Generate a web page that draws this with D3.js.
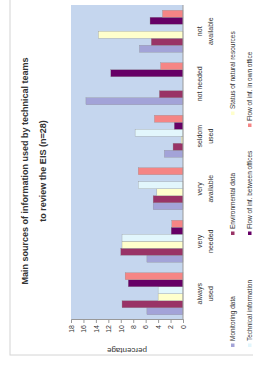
<!DOCTYPE html>
<html>
<head>
<meta charset="utf-8">
<script src="https://cdn.jsdelivr.net/npm/d3@7"></script>
<style>
  body { margin: 0; background: #fff; }
  text { font-family: "Liberation Sans", Arial, sans-serif; fill: #333; }
</style>
</head>
<body>
<div id="chart"></div>
<script>
const width = 253;
const height = 372;

// data (percentage)
const categories = [["always", "used"], ["very", "needed"], ["very", "available"], ["seldom", "used"], ["not needed"], ["not", "available"]];
const seriesNames = ["Monitoring data", "Environmental data", "Status of natural resources",
    "Technical information", "Flow of inf. between offices", "Flow of inf. in own office"];
const seriesColors = ["#a3a3d8", "#993366", "#ffffcc", "#e2f6fc", "#660066", "#f58585"];
const monitoring    = [5.8, 5.8, 4.8, 3.0, 15.6, 7.0];
const environmental = [9.8, 10.0, 4.8, 1.6, 3.8, 5.1];
const status        = [4.0, 9.8, 4.2, 0.3, 0, 13.6];
const technical     = [4.0, 9.8, 7.2, 7.7, 0, 0];
const betweenOff    = [8.8, 1.9, 0, 1.4, 11.6, 5.3];
const ownOffice     = [9.3, 1.8, 7.2, 4.6, 3.6, 3.3];
const seriesValues = [monitoring, environmental, status, technical, betweenOff, ownOffice];
const yTicks = [0, 2, 4, 6, 8, 10, 12, 14, 16, 18];

const svg = d3.select("#chart").append("svg")
    .attr("width", width)
    .attr("height", height);

// the whole chart is turned a quarter turn, like the scan
// W and H are the unrotated sizes
const W = height, H = width;
const g = svg.append("g").attr("transform", `translate(0,${height}) rotate(-90)`);

// frame
g.append("rect")
    .attr("x", 17).attr("y", 10)
    .attr("width", W + 20).attr("height", H + 20)
    .attr("fill", "none").attr("stroke", "#d4d4d4").attr("stroke-width", 1);

const plot = { left: 52, right: 367, top: 71, bottom: 183 };

const x0 = d3.scaleBand()
    .domain(d3.range(categories.length))
    .range([plot.left, plot.right])
    .paddingInner(0.2)
    .paddingOuter(0.1);

const x1 = d3.scaleBand()
    .domain(d3.range(seriesNames.length))
    .range([0, x0.bandwidth()]);

const y = d3.scaleLinear().domain([0, 18]).range([plot.bottom, plot.top]);

g.append("rect")
    .attr("x", plot.left).attr("y", plot.top)
    .attr("width", plot.right - plot.left).attr("height", plot.bottom - plot.top)
    .attr("fill", "#c5d6ee");

// bars
seriesValues.forEach((vals, s) => {
    g.append("g").selectAll("rect")
        .data(vals)
        .enter()
        .append("rect")
        .attr("x", (d, i) => x0(i) + x1(s))
        .attr("y", d => y(d))
        .attr("width", x1.bandwidth())
        .attr("height", d => y(0) - y(d))
        .attr("fill", seriesColors[s])
        .attr("stroke", d => d > 0 ? "#8a8a8a" : "none")
        .attr("stroke-width", 0.3);
});

// value axis
const yAxis = g.append("g")
    .attr("transform", `translate(${plot.left},0)`)
    .call(d3.axisLeft(y).tickValues(yTicks).tickSize(3).tickPadding(2));
yAxis.select(".domain").attr("stroke", "#999");
yAxis.selectAll(".tick line").attr("stroke", "#999");
yAxis.selectAll("text").style("font-size", "7px").attr("fill", "#444");

g.append("text")
    .attr("transform", `translate(24,${(plot.top + plot.bottom) / 2}) rotate(-90)`)
    .attr("text-anchor", "middle")
    .style("font-size", "8px")
    .text("percentage");

// category axis
g.append("line")
    .attr("x1", plot.left).attr("x2", plot.right)
    .attr("y1", plot.bottom).attr("y2", plot.bottom)
    .attr("stroke", "#999");

const catLabels = g.append("g").selectAll("text")
    .data(categories)
    .enter()
    .append("text")
    .attr("x", (d, i) => x0(i) + x0.bandwidth() / 2)
    .attr("y", 202)
    .attr("text-anchor", "middle")
    .style("font-size", "7px");
catLabels.selectAll("tspan")
    .data(d => d)
    .enter()
    .append("tspan")
    .attr("x", function() { return this.parentNode.getAttribute("x"); })
    .attr("dy", (d, i) => i === 0 ? 0 : 11)
    .text(d => d);

// title
g.append("text")
    .attr("x", 201).attr("y", 28)
    .attr("text-anchor", "middle")
    .style("font-size", "9px").style("font-weight", "bold")
    .text("Main sources of  information used by technical teams");
g.append("text")
    .attr("x", 201).attr("y", 46)
    .attr("text-anchor", "middle")
    .style("font-size", "9px").style("font-weight", "bold")
    .text("to review the EIS (n=28)");

// legend
const legendPos = [[27, 235], [139, 235], [259, 235], [27, 252], [139, 252], [247, 252]];
const legend = g.append("g").selectAll("g")
    .data(seriesNames)
    .enter()
    .append("g")
    .attr("transform", (d, i) => `translate(${legendPos[i][0]},${legendPos[i][1]})`);
legend.append("rect")
    .attr("x", -2).attr("y", -4)
    .attr("width", 3.5).attr("height", 3.5)
    .attr("fill", (d, i) => seriesColors[i]);
legend.append("text")
    .attr("x", 4).attr("y", 0)
    .style("font-size", "6.5px")
    .text(d => d);
</script>
</body>
</html>
